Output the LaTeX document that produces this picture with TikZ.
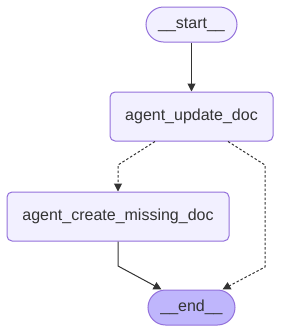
\documentclass[tikz,border=0pt]{standalone}
\usepackage{fontspec}
\setmainfont{Liberation Sans}
\usetikzlibrary{arrows.meta}
\definecolor{nodefill}{HTML}{F2F0FF}
\definecolor{nodeline}{HTML}{9370DB}
\definecolor{endfill}{HTML}{BFB6FC}
\definecolor{txt}{HTML}{333333}
\tikzset{
  box/.style={draw=nodeline, fill=nodefill, line width=1pt, rounded corners=5pt,
    text=txt, font=\fontsize{16}{18}\selectfont, inner sep=0pt, minimum height=49pt},
  pill/.style={draw=nodeline, fill=nodefill, line width=1pt, rounded corners=17.5pt,
    text=txt, font=\fontsize{16}{18}\selectfont, inner sep=0pt, minimum height=35pt},
  edge/.style={draw=txt, line width=1pt, -{Triangle[length=8pt,width=8pt]}},
  cond/.style={edge, dash pattern=on 2.5pt off 2pt},
}
\begin{document}
\begin{tikzpicture}[x=1pt,y=-1pt]
\useasboundingbox (0,0) rectangle (281,333);
\node[pill, minimum width=91pt] (start) at (191.5,24.5) {\_\_start\_\_};
\node[box, minimum width=163pt] (update) at (191.5,116.5) {agent\_update\_doc};
\node[box, minimum width=222pt] (create) at (118,216.5) {agent\_create\_missing\_doc};
\node[pill, minimum width=87pt, fill=endfill] (end) at (191.5,307.5) {\_\_end\_\_};
\coordinate (b1) at (118,165);
\coordinate (b2) at (265,165);
\coordinate (b3) at (265,267);
\coordinate (b4) at (118,266);
\draw[edge] (start) -- (update);
\draw[cond] ([xshift=-36.5pt]update.south) -- (b1) -- (create.north -| b1);
\draw[cond] ([xshift=36.5pt]update.south) -- (b2) -- (b3) -- ([xshift=-13pt]end.north east);
\draw[edge] (create.south -| b4) -- (b4) -- ([xshift=14pt]end.north west);
\end{tikzpicture}
\end{document}
